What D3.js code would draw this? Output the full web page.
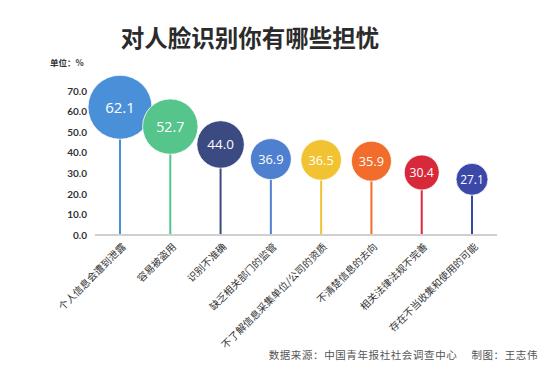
<!DOCTYPE html>
<html><head><meta charset="utf-8">
<script src="https://cdn.jsdelivr.net/npm/d3@7"></script>
<style>body{margin:0;background:#fff}svg{display:block}</style>
</head><body><svg id="c" width="550" height="374"></svg>
<script>
const categories = ["个人信息会遭到泄露","容易被盗用","识别不准确","缺乏相关部门的监管","不了解信息采集单位/公司的资质","不清楚信息的去向","相关法律法规不完善","存在不当收集和使用的可能"];
const values = [62.1,52.7,44.0,36.9,36.5,35.9,30.4,27.1];
const colors = ["#4a90d9","#55c58b","#3b4a80","#4f7fcf","#f1c232","#f26d2b","#d8293b","#3c48a8"];
const yTicks = [0,10,20,30,40,50,60,70];
const title = "对人脸识别你有哪些担忧";
const unit = "单位：%";
const source = "数据来源：中国青年报社社会调查中心　 制图：王志伟";

const svg = d3.select("#c");
const x = d3.scalePoint().domain(categories).range([120,472]);
const y = d3.scaleLinear().domain([0,70]).range([235,91]);
const r = d3.scaleLinear().domain([27.1,62.1]).range([16,32]);
const fs = d3.scaleLinear().domain([27.1,62.1]).range([12,15]);

svg.append("text").attr("x",250).attr("y",47).attr("text-anchor","middle")
  .attr("font-family","Noto Sans CJK SC").attr("font-weight","bold").attr("font-size",23.5)
  .attr("fill","#2b2b2b").text(title);
svg.append("text").attr("x",50).attr("y",66).attr("font-family","Noto Sans CJK SC")
  .attr("font-weight","bold").attr("font-size",8.5).attr("fill","#333").text(unit);

const yAxis = svg.append("g").attr("transform","translate(95,0)")
  .call(d3.axisLeft(y).tickValues(yTicks).tickFormat(d3.format(".1f")).tickSize(0).tickPadding(8));
yAxis.select(".domain").remove();
yAxis.selectAll("text").attr("font-family","Lato, 'Noto Sans'").attr("font-weight","bold")
  .attr("font-size",10).attr("fill","#333");

svg.append("line").attr("x1",95).attr("x2",497).attr("y1",y(0)).attr("y2",y(0))
  .attr("stroke","#d0d0d0").attr("stroke-width",2);

const g = svg.append("g");
categories.forEach((c,i)=>{
  const v = values[i];
  g.append("line").attr("x1",x(c)).attr("x2",x(c)).attr("y1",y(v)).attr("y2",y(0)-1)
    .attr("stroke",colors[i]).attr("stroke-width",2);
  g.append("circle").attr("cx",x(c)).attr("cy",y(v)).attr("r",r(v))
    .attr("fill",colors[i]).attr("stroke","#fff").attr("stroke-width",0.8);
  g.append("text").attr("x",x(c)).attr("y",y(v)).attr("dy","0.36em").attr("text-anchor","middle")
    .attr("font-family","'Open Sans'").attr("font-size",fs(v)).attr("fill","#fff").text(v.toFixed(1));
  svg.append("text").attr("transform",`translate(${x(c)+4},${y(0)+10}) rotate(-45)`)
    .attr("text-anchor","end").attr("dy","0.35em").attr("font-family","Noto Sans CJK SC")
    .attr("font-size",10).attr("fill","#333").text(c);
});

svg.append("text").attr("x",538).attr("y",359).attr("text-anchor","end")
  .attr("font-family","Noto Sans CJK SC").attr("font-size",10.5).attr("letter-spacing",0.6)
  .attr("fill","#555").text(source);
</script></body></html>
